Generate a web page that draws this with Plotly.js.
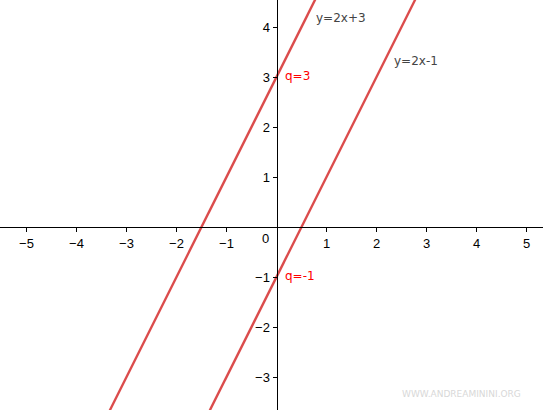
<!DOCTYPE html>
<html>
<head>
<meta charset="utf-8">
<script src="https://cdn.plot.ly/plotly-3.0.1.min.js"></script>
<style>html,body{margin:0;padding:0;background:#fff;}#chart{width:543px;height:410px;}</style>
</head>
<body>
<div id="chart"></div>
<script>
// Line endpoints
const line1X = [-3.4, 0.8];   // y = 2x + 3
const line1Y = [-3.8, 4.6];
const line2X = [-1.4, 2.8];   // y = 2x - 1
const line2Y = [-3.8, 4.6];

const xTicks = [-5, -4, -3, -2, -1, 1, 2, 3, 4, 5];
const yTicks = [-3, -2, -1, 1, 2, 3, 4];

const eqLabels = ["y=2x+3", "y=2x-1"];
const eqLabelX = [0.74, 2.31];
const eqLabelY = [4.18, 3.32];
const qLabels = ["q=3", "q=-1"];
const qLabelX = [0.13, 0.13];
const qLabelY = [3.02, -0.98];

const xRange = [-5.53, 5.33];
const yRange = [-3.66, 4.54];

const lineColor = "#DB4C4C";

const traces = [
  {x: line1X, y: line1Y, mode: "lines", line: {color: lineColor, width: 2.4}, hoverinfo: "skip"},
  {x: line2X, y: line2Y, mode: "lines", line: {color: lineColor, width: 2.4}, hoverinfo: "skip"}
];

const xPos = (0 - yRange[0]) / (yRange[1] - yRange[0]);
const yPos = (0 - xRange[0]) / (xRange[1] - xRange[0]);

const font = {family: "Liberation Sans, Arial, sans-serif", size: 13, color: "#000"};

const annotations = [];
eqLabels.forEach((t, i) => annotations.push({
  x: eqLabelX[i], y: eqLabelY[i], text: t, showarrow: false, xanchor: "left", yanchor: "middle",
  font: {family: "DejaVu Sans, sans-serif", size: 12, color: "#444"}
}));
qLabels.forEach((t, i) => annotations.push({
  x: qLabelX[i], y: qLabelY[i], text: t, showarrow: false, xanchor: "left", yanchor: "middle",
  font: {family: "DejaVu Sans, sans-serif", size: 12, color: "#FF0000"}
}));
annotations.push({x: -0.22, y: -0.22, text: "0", showarrow: false, xanchor: "center", yanchor: "middle", font: font});
annotations.push({xref: "paper", yref: "paper", x: 0.85, y: 0.04, text: "WWW.ANDREAMININI.ORG", showarrow: false,
  xanchor: "center", yanchor: "middle", font: {family: "DejaVu Sans, sans-serif", size: 9, color: "#d8d8d8"}});

const layout = {
  width: 543, height: 410,
  margin: {l: 0, r: 0, t: 0, b: 0},
  paper_bgcolor: "#fff", plot_bgcolor: "#fff",
  showlegend: false,
  xaxis: {
    range: xRange, showgrid: false, zeroline: false,
    showline: true, linecolor: "#000", linewidth: 1.2,
    anchor: "free", position: xPos,
    tickvals: xTicks, ticks: "outside", ticklen: 4, tickcolor: "#000",
    tickfont: font, fixedrange: true
  },
  yaxis: {
    range: yRange, showgrid: false, zeroline: false,
    showline: true, linecolor: "#000", linewidth: 1.2,
    anchor: "free", position: yPos,
    tickvals: yTicks, ticks: "outside", ticklen: 4, tickcolor: "#000",
    tickfont: font, fixedrange: true
  },
  annotations: annotations
};

Plotly.newPlot("chart", traces, layout, {displayModeBar: false, staticPlot: true});
</script>
</body>
</html>
